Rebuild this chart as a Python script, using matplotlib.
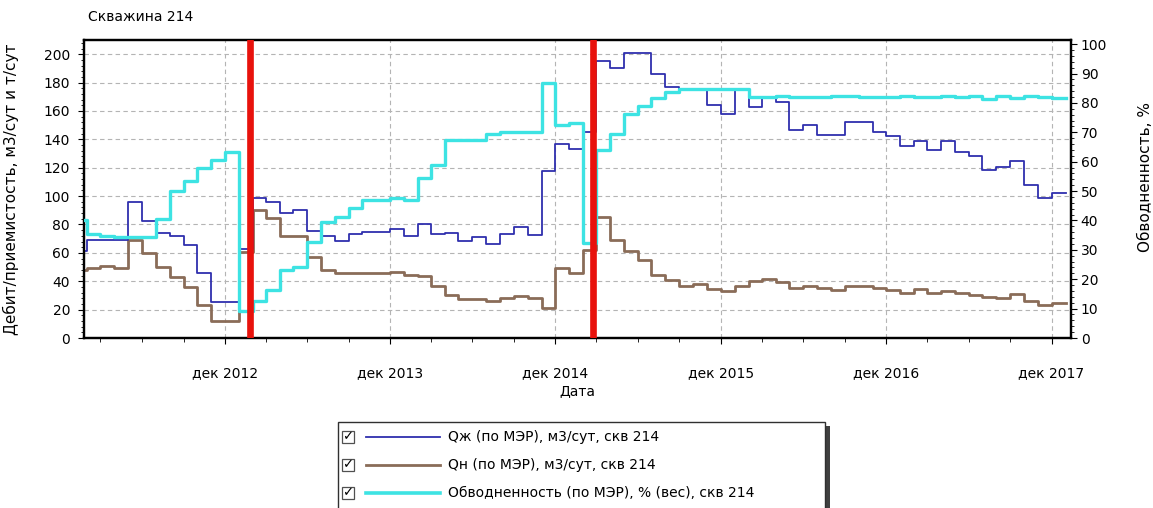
import matplotlib
matplotlib.use('Agg')
import matplotlib.pyplot as plt
import matplotlib.dates as mdates
from matplotlib.lines import Line2D
from matplotlib.patches import Rectangle
import pandas as pd
import numpy as np

plt.rcParams['font.family'] = ['DejaVu Sans']

# monthly data, Jan 2012 .. Dec 2017
months = pd.date_range('2012-01-01', '2017-12-01', freq='MS')

q_liq = [61, 69, 69, 69, 95.6, 82.7, 73.7, 72, 65.5, 45.5, 25.5, 25.5,
         63, 99, 96, 88, 90, 75.5, 72.2, 68.5, 73, 74.8, 74.8, 77,
         72, 80.6, 73, 74, 68.3, 71, 66.3, 73, 78, 72.8, 117.6, 137,
         133.5, 145, 195.5, 190, 201, 201, 186, 177, 175.5, 175.5, 164, 158.2,
         175.5, 163, 169, 166.6, 146.5, 150, 143, 143, 152.4, 152.4, 145.3, 142,
         135.5, 138.7, 132.4, 138.7, 131.2, 128.3, 118.5, 120.8, 124.4, 108, 98.9, 102.5]

q_oil = [48, 49, 50.8, 49, 69.2, 59.8, 50, 43, 35.6, 23.3, 12, 12,
         60.7, 90.5, 84.5, 72.2, 72.2, 56.8, 47.8, 45.8, 45.5, 45.5, 45.5, 46.7,
         44.5, 43.8, 36.4, 30.4, 27.2, 27.5, 25.8, 28.3, 29.6, 28.2, 21.2, 49.2,
         46, 62, 85.6, 69.2, 61.2, 55.1, 44.7, 40.7, 36.3, 38, 34.3, 33,
         36.9, 40.3, 41.5, 39.8, 35.4, 36.7, 35.3, 34, 36.9, 36.9, 35.4, 33.7,
         31.4, 34.4, 31.4, 33.3, 31.4, 30.2, 29, 28.3, 30.7, 26, 23.2, 24.8]

water_cut = [40.2, 35.3, 34.8, 34.5, 34.2, 34.2, 40.5, 49.9, 53.5, 57.8, 60.4, 63.3,
             9.1, 12.5, 16.5, 23, 24, 32.8, 39.6, 41.2, 44.4, 46.8, 47, 47.7,
             46.8, 54.6, 58.8, 67.5, 67.5, 67.5, 69.3, 70.1, 70.1, 70.2, 86.7, 72.4,
             73.2, 32.3, 64, 69.5, 76.3, 79, 81.8, 83.8, 84.8, 84.8, 84.8, 84.8,
             84.8, 82, 81.9, 82.3, 81.9, 81.9, 81.9, 82.3, 82.3, 82, 82, 82,
             82.3, 82, 81.9, 82.4, 81.9, 82.4, 81.3, 82.2, 81.6, 82.4, 81.9, 81.6]

event_dates = ['2013-01-25', '2015-02-23']
xtick_dates = pd.date_range('2012-12-01', '2017-12-01', freq='12MS')
xtick_labels = ['дек 2012', 'дек 2013', 'дек 2014', 'дек 2015', 'дек 2016', 'дек 2017']

legend_labels = ['Qж (по МЭР), м3/сут, скв 214',
                 'Qн (по МЭР), м3/сут, скв 214',
                 'Обводненность (по МЭР), % (вес), скв 214']

C_LIQ = '#2f2fae'
C_OIL = '#8a6c58'
C_WC = '#3de3e3'

# step 'post' needs closing point at end of last month
x = list(months) + [pd.Timestamp('2018-01-01')]
def close(v):
    return list(v) + [v[-1]]

fig = plt.figure(figsize=(11.53, 5.08), dpi=100)
ax = fig.add_axes([84/1153, 1 - 338/508, 987/1153, 298/508])
ax2 = ax.twinx()

ax.plot(x, close(q_liq), drawstyle='steps-post', color=C_LIQ, lw=1.3, zorder=3)
ax.plot(x, close(q_oil), drawstyle='steps-post', color=C_OIL, lw=2.0, zorder=2)
ax2.plot(x, close(water_cut), drawstyle='steps-post', color=C_WC, lw=2.4, zorder=3)
for d in event_dates:
    ax2.axvline(pd.Timestamp(d), color='#e8120c', lw=4.8, zorder=5)

ax.set_xlim(pd.Timestamp('2012-01-25'), pd.Timestamp('2018-01-13'))
ax.set_ylim(0, 210)
ax2.set_ylim(0, 101.4)

ax.set_yticks(np.arange(0, 201, 20))
ax.set_yticks(np.arange(0, 210, 4), minor=True)
ax2.set_yticks(np.arange(0, 101, 10))
ax2.set_yticks(np.arange(0, 101, 2), minor=True)
ax.set_xticks(xtick_dates)
ax.set_xticklabels(xtick_labels)
ax.xaxis.set_minor_locator(mdates.MonthLocator(bymonth=[3, 6, 9, 12]))

ax.grid(True, which='major', color='#b4b4b4', linestyle=(0, (4, 3)), lw=0.8)
ax.set_axisbelow(True)

ax.tick_params(axis='x', which='major', direction='out', length=4, pad=16, labelsize=10)
ax.tick_params(axis='x', which='minor', direction='out', length=3)
ax.tick_params(axis='y', which='major', direction='out', length=4, pad=6, labelsize=10)
ax.tick_params(axis='y', which='minor', direction='out', length=2)
ax2.tick_params(axis='y', which='major', direction='out', length=4, pad=3, labelsize=10)
ax2.tick_params(axis='y', which='minor', direction='out', length=2)

for a in (ax, ax2):
    for s in a.spines.values():
        s.set_linewidth(1.6)
        s.set_color('black')

ax.set_ylabel('Дебит/приемистость, м3/сут и т/сут', fontsize=11)
ax.yaxis.set_label_coords(-0.066, 0.5)
ax2.set_ylabel('Обводненность, %', fontsize=11)
ax2.yaxis.set_label_coords(1.068, 0.54)
ax.set_xlabel('Дата', fontsize=10)
ax.xaxis.set_label_coords(0.5, -0.153)

fig.text(88/1153, 1 - 17/508, 'Скважина 214', fontsize=10, va='center', ha='left')

# legend box (checkbox-style, like the original panel)
W, H = 1153, 508
fig.add_artist(Rectangle((826/W, 0), 4/W, (508-426)/H, transform=fig.transFigure,
                         facecolor='#404040', edgecolor='none'))
fig.add_artist(Rectangle((338/W, -0.01), (825-338)/W, (508-422)/H + 0.01,
                         transform=fig.transFigure, facecolor='white',
                         edgecolor='#303030', lw=1.0))
rows = [437, 465, 493]
colors = [C_LIQ, C_OIL, C_WC]
widths = [1.3, 2.0, 2.6]
for yy, c, lw_, lab in zip(rows, colors, widths, legend_labels):
    fy = 1 - yy / H
    fig.add_artist(Rectangle((342/W, fy - 6/H), 12/W, 12/H, transform=fig.transFigure,
                             facecolor='white', edgecolor='#505050', lw=0.9))
    fig.text(348/W, fy, '✓', fontsize=9.5, fontweight='bold', ha='center', va='center')
    fig.add_artist(Line2D([366/W, 440/W], [fy, fy], transform=fig.transFigure,
                          color=c, lw=lw_))
    fig.text(448/W, fy, lab, fontsize=10, ha='left', va='center')

fig.savefig('out.png', dpi=100)
